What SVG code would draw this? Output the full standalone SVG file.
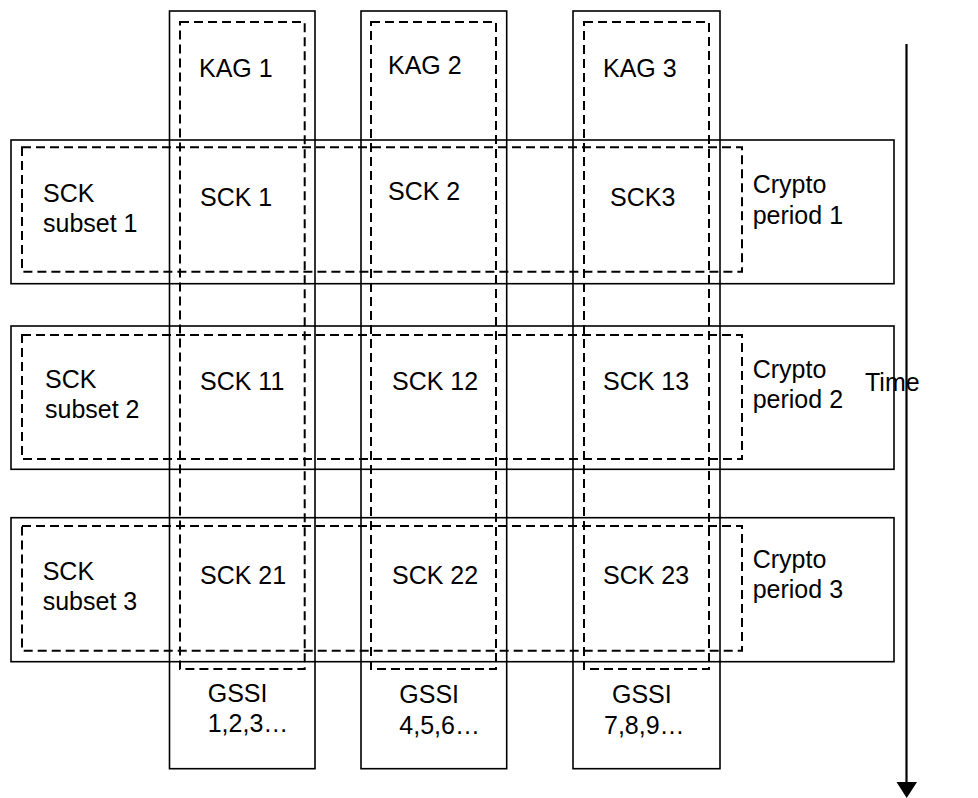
<svg xmlns="http://www.w3.org/2000/svg" width="978" height="798" viewBox="0 0 978 798">
<style>
.solid{fill:none;stroke:#000;stroke-width:1.6}
.dash{fill:none;stroke:#000;stroke-width:2;stroke-dasharray:9,5}
text{font-family:"Liberation Sans",Arial,sans-serif;font-size:25px;fill:#000}
</style>
<rect width="978" height="798" fill="#fff"/>
<g id="kag1">
<rect class="solid" x="169.5" y="11" width="145.5" height="757.7"/>
<rect class="dash" x="180" y="22" width="124.7" height="647"/>
<text x="199" y="77">KAG 1</text>
<text x="207.7" y="702.3">GSSI</text>
<text x="207.7" y="731.7">1,2,3…</text>
</g>
<g id="kag2">
<rect class="solid" x="361" y="11" width="145.7" height="757.7"/>
<rect class="dash" x="371" y="22" width="125" height="647"/>
<text x="388" y="74">KAG 2</text>
<text x="399.3" y="703.3">GSSI</text>
<text x="399.3" y="734">4,5,6…</text>
</g>
<g id="kag3">
<rect class="solid" x="573" y="11" width="147" height="757.7"/>
<rect class="dash" x="584" y="22" width="125" height="647"/>
<text x="603" y="77">KAG 3</text>
<text x="612" y="703.3">GSSI</text>
<text x="604" y="734">7,8,9…</text>
</g>
<g id="period1">
<rect class="solid" x="11" y="140" width="883" height="143.7"/>
<rect class="dash" x="22" y="147.3" width="720" height="124.4"/>
<text x="43" y="201.7">SCK</text>
<text x="43" y="231.7">subset 1</text>
<text x="752.7" y="193.3">Crypto</text>
<text x="752.7" y="224">period 1</text>
</g>
<g id="period2">
<rect class="solid" x="11" y="326" width="883" height="143.3"/>
<rect class="dash" x="22" y="335" width="720" height="124"/>
<text x="45" y="388.3">SCK</text>
<text x="45" y="418.3">subset 2</text>
<text x="752.7" y="378.3">Crypto</text>
<text x="752.7" y="408.3">period 2</text>
</g>
<g id="period3">
<rect class="solid" x="11" y="517.7" width="883" height="144"/>
<rect class="dash" x="22" y="526" width="720" height="124.7"/>
<text x="42.7" y="580">SCK</text>
<text x="42.7" y="610">subset 3</text>
<text x="752.7" y="568.3">Crypto</text>
<text x="752.7" y="598.3">period 3</text>
</g>
<g id="sck1"><text x="200" y="206">SCK 1</text></g>
<g id="sck2"><text x="388" y="200">SCK 2</text></g>
<g id="sck3"><text x="610" y="206">SCK3</text></g>
<g id="sck11"><text x="200" y="390">SCK 11</text></g>
<g id="sck12"><text x="392" y="390">SCK 12</text></g>
<g id="sck13"><text x="603" y="390">SCK 13</text></g>
<g id="sck21"><text x="200" y="584">SCK 21</text></g>
<g id="sck22"><text x="392" y="584">SCK 22</text></g>
<g id="sck23"><text x="603" y="584">SCK 23</text></g>
<g id="time"><text x="865" y="391">Time</text></g>
<g id="connectors">
<line x1="906.5" y1="44" x2="906.5" y2="784" stroke="#000" stroke-width="2.2"/>
<polygon points="896.5,782 917,782 906.7,798" fill="#000"/>
</g>
</svg>
